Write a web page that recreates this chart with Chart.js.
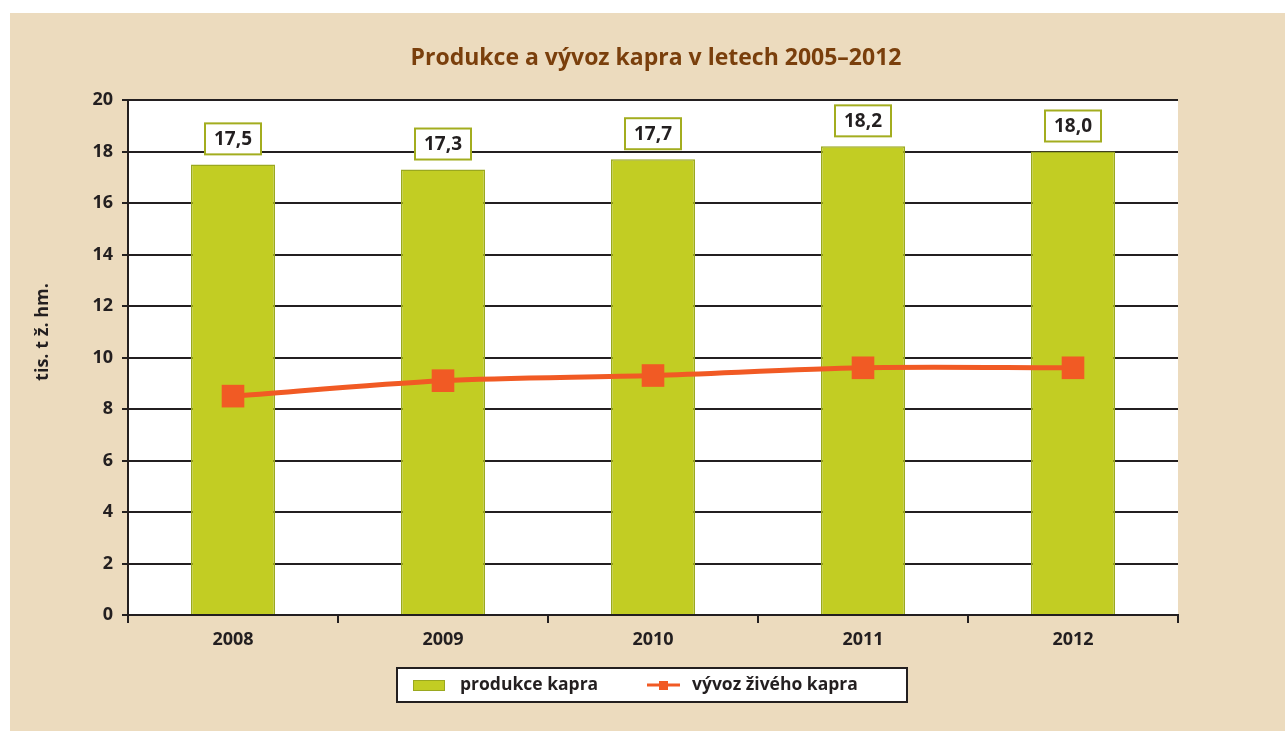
<!DOCTYPE html>
<html>
<head>
<meta charset="utf-8">
<script src="https://cdn.jsdelivr.net/npm/chart.js@4"></script>
<style>
html,body{margin:0;padding:0;background:#fff;}
#wrap{position:absolute;left:0;top:0;width:1285px;height:731px;}
</style>
</head>
<body>
<div id="wrap"><canvas id="c" width="1285" height="731"></canvas></div>
<script>
const years = ['2008', '2009', '2010', '2011', '2012'];
const produkce = [17.5, 17.3, 17.7, 18.2, 18.0];
const vyvoz = [8.5, 9.1, 9.3, 9.6, 9.6];
const yTicks = [0, 2, 4, 6, 8, 10, 12, 14, 16, 18, 20];
const titleText = 'Produkce a vývoz kapra v letech 2005–2012';
const yTitle = 'tis. t ž. hm.';
const seriesNames = ['produkce kapra', 'vývoz živého kapra'];

const FONT = '"Open Sans", "Noto Sans", sans-serif';
const DARK = '#231f20';
const GREEN = '#c2cd23';
const GREEN_BORDER = '#9aa81f';
const ORANGE = '#f15a24';
const BEIGE = '#ecdbbe';

const bgPlugin = {
  id: 'bg',
  beforeDraw(chart) {
    const ctx = chart.ctx, ca = chart.chartArea;
    ctx.save();
    ctx.fillStyle = '#ffffff';
    ctx.fillRect(0, 0, chart.width, chart.height);
    ctx.fillStyle = BEIGE;
    ctx.fillRect(10, 13, chart.width - 10, chart.height - 13);
    ctx.fillStyle = '#ffffff';
    ctx.fillRect(ca.left, ca.top, ca.right - ca.left, ca.bottom - ca.top);
    ctx.restore();
  }
};

const decoPlugin = {
  id: 'deco',
  afterDraw(chart) {
    const ctx = chart.ctx;
    ctx.save();
    // title
    ctx.fillStyle = '#7a3f0c';
    ctx.font = 'bold 23px ' + FONT;
    ctx.textAlign = 'center';
    ctx.textBaseline = 'middle';
    ctx.fillText(titleText, 656, 58);
    // y title
    ctx.save();
    ctx.translate(43, 332);
    ctx.rotate(-Math.PI / 2);
    ctx.fillStyle = DARK;
    ctx.font = 'bold 18px ' + FONT;
    ctx.fillText(yTitle, 0, 0);
    ctx.restore();
    // data labels
    const meta = chart.getDatasetMeta(0);
    ctx.font = 'bold 19px ' + FONT;
    meta.data.forEach((bar, i) => {
      const w = 56, h = 31;
      const x = bar.x - w / 2, y = bar.y - 10 - h;
      ctx.fillStyle = '#fff';
      ctx.fillRect(x, y, w, h);
      ctx.strokeStyle = '#a3ad1f';
      ctx.lineWidth = 2;
      ctx.strokeRect(x, y, w, h);
      ctx.fillStyle = DARK;
      ctx.fillText(produkce[i].toFixed(1).replace('.', ','), bar.x, y + h / 2 + 1);
    });
    // legend
    ctx.fillStyle = '#fff';
    ctx.fillRect(397, 668, 510, 34);
    ctx.strokeStyle = DARK;
    ctx.lineWidth = 2;
    ctx.strokeRect(397, 668, 510, 34);
    ctx.fillStyle = GREEN;
    ctx.fillRect(413, 680, 31, 10);
    ctx.strokeStyle = GREEN_BORDER;
    ctx.lineWidth = 1;
    ctx.strokeRect(413.5, 680.5, 31, 10);
    ctx.fillStyle = DARK;
    ctx.font = 'bold 17.5px ' + FONT;
    ctx.textAlign = 'left';
    ctx.fillText(seriesNames[0], 460, 685);
    ctx.strokeStyle = ORANGE;
    ctx.lineWidth = 3;
    ctx.beginPath(); ctx.moveTo(647, 685); ctx.lineTo(680, 685); ctx.stroke();
    ctx.fillStyle = ORANGE;
    ctx.fillRect(659, 681, 9, 9);
    ctx.fillStyle = DARK;
    ctx.fillText(seriesNames[1], 692, 685);
    ctx.restore();
  }
};

new Chart(document.getElementById('c'), {
  data: {
    labels: years,
    datasets: [
      {
        type: 'bar',
        label: seriesNames[0],
        data: produkce,
        backgroundColor: GREEN,
        borderColor: GREEN_BORDER,
        borderWidth: 1.5,
        categoryPercentage: 0.4,
        barPercentage: 1.0,
        order: 2
      },
      {
        type: 'line',
        label: seriesNames[1],
        data: vyvoz,
        borderColor: ORANGE,
        backgroundColor: ORANGE,
        borderWidth: 5,
        pointStyle: 'rect',
        pointRadius: 16,
        pointHoverRadius: 16,
        pointBorderWidth: 0,
        tension: 0.3,
        order: 1
      }
    ]
  },
  options: {
    responsive: false,
    animation: false,
    events: [],
    layout: { padding: { left: 0, right: 107, top: 100, bottom: 0 } },
    plugins: {
      legend: { display: false },
      title: { display: false },
      tooltip: { enabled: false }
    },
    scales: {
      x: {
        type: 'category',
        offset: true,
        grid: {
          offset: true,
          drawOnChartArea: false,
          drawTicks: true,
          tickLength: 8,
          color: DARK,
          lineWidth: 2
        },
        border: { display: true, color: DARK, width: 2 },
        ticks: {
          color: DARK,
          font: { family: FONT, weight: 'bold', size: 18 },
          padding: 6,
          maxRotation: 0
        },
        afterFit(scale) { scale.height = 116; }
      },
      y: {
        min: 0,
        max: 20,
        afterBuildTicks(scale) { scale.ticks = yTicks.map(v => ({ value: v })); },
        grid: {
          color: DARK,
          lineWidth: 2,
          drawTicks: true,
          tickLength: 6
        },
        border: { display: true, color: DARK, width: 2 },
        ticks: {
          color: DARK,
          font: { family: FONT, weight: 'bold', size: 18 },
          padding: 9
        },
        afterFit(scale) { scale.width = 128; }
      }
    }
  },
  plugins: [bgPlugin, decoPlugin]
});
</script>
</body>
</html>
